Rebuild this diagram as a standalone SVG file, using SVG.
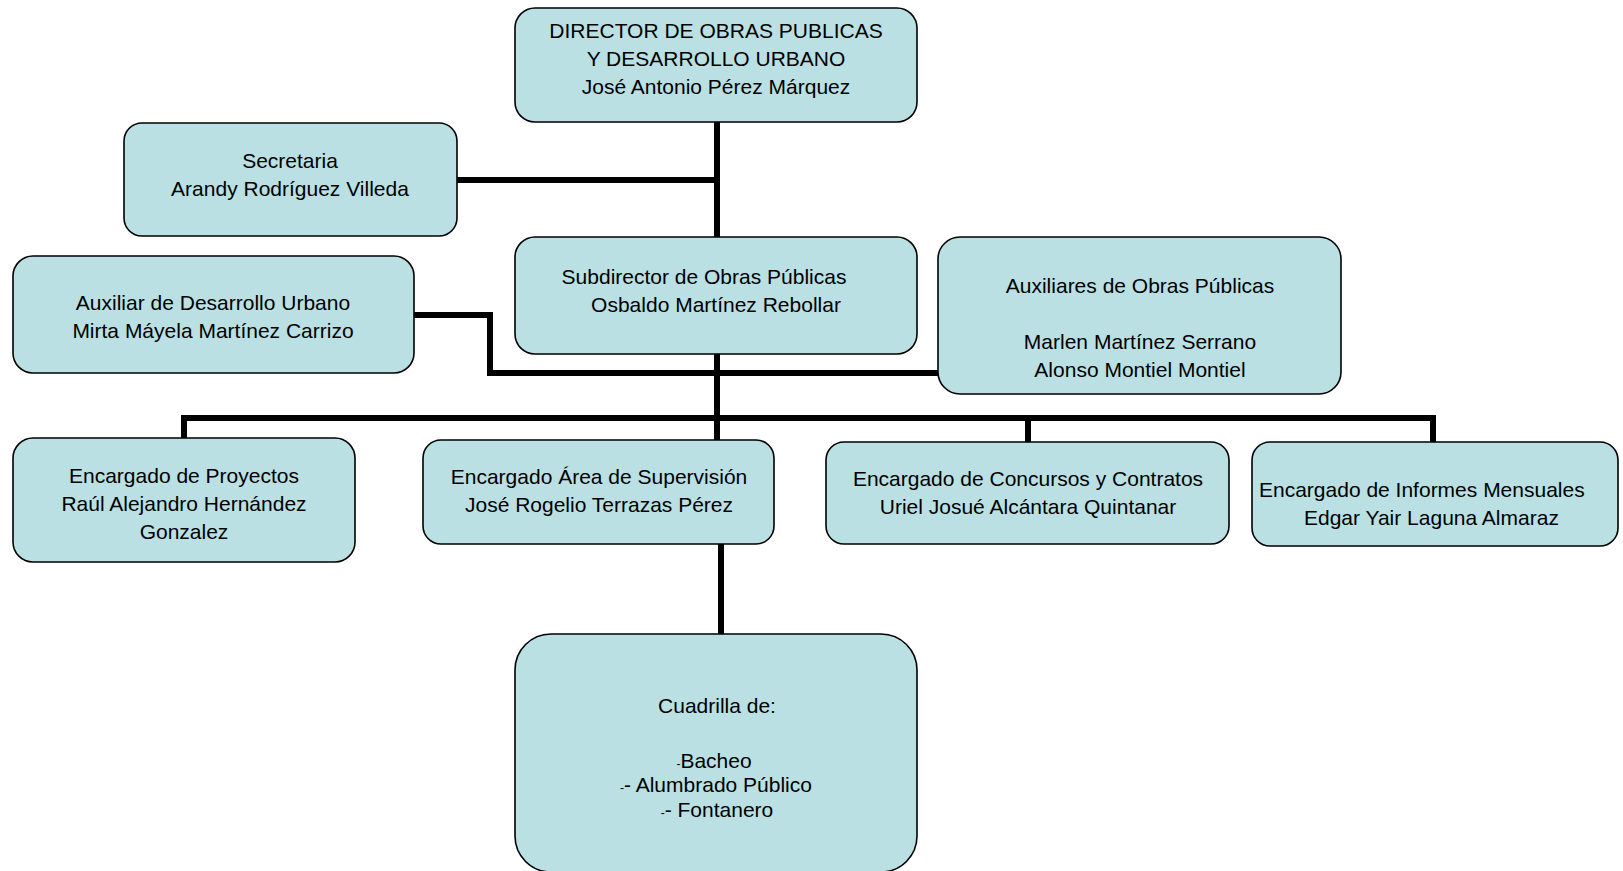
<svg xmlns="http://www.w3.org/2000/svg" width="1623" height="871" viewBox="0 0 1623 871">
<style>
.box{fill:#BAE0E4;stroke:#000;stroke-width:1.6}
.t{font-family:"Liberation Sans",Arial,sans-serif;font-size:21px;fill:#000;text-anchor:middle}
.s{text-anchor:start}
.sm{font-size:12px}
.c{fill:none;stroke:#000;stroke-width:6}
</style>
<rect width="1623" height="871" fill="#fff"/>
<g id="connectors">
<path class="c" d="M717,122 V440"/>
<path class="c" d="M457,180 H717"/>
<path class="c" d="M414,315 H490 V373 H938"/>
<path class="c" d="M184,438 V418 H1433 V442"/>
<path class="c" d="M1028,418 V442"/>
<path class="c" d="M721,544 V634"/>
</g>
<g id="director">
<rect class="box" x="515" y="8" width="402" height="114" rx="20"/>
<text class="t" x="716" y="38">DIRECTOR DE OBRAS PUBLICAS</text>
<text class="t" x="716" y="66">Y DESARROLLO URBANO</text>
<text class="t" x="716" y="94">José Antonio Pérez Márquez</text>
</g>
<g id="secretaria">
<rect class="box" x="124" y="123" width="333" height="113" rx="18"/>
<text class="t" x="290" y="168">Secretaria</text>
<text class="t" x="290" y="196">Arandy Rodríguez Villeda</text>
</g>
<g id="subdirector">
<rect class="box" x="515" y="237" width="402" height="117" rx="20"/>
<text class="t" x="704" y="284">Subdirector de Obras Públicas</text>
<text class="t" x="716" y="312">Osbaldo Martínez Rebollar</text>
</g>
<g id="auxiliares-obras">
<rect class="box" x="938" y="237" width="403" height="157" rx="22"/>
<text class="t" x="1140" y="293">Auxiliares de Obras Públicas</text>
<text class="t" x="1140" y="349">Marlen Martínez Serrano</text>
<text class="t" x="1140" y="377">Alonso Montiel Montiel</text>
</g>
<g id="auxiliar-desarrollo">
<rect class="box" x="13" y="256" width="401" height="117" rx="20"/>
<text class="t" x="213" y="310">Auxiliar de Desarrollo Urbano</text>
<text class="t" x="213" y="338">Mirta Máyela Martínez Carrizo</text>
</g>
<g id="proyectos">
<rect class="box" x="13" y="438" width="342" height="124" rx="20"/>
<text class="t" x="184" y="483">Encargado de Proyectos</text>
<text class="t" x="184" y="511">Raúl Alejandro Hernández</text>
<text class="t" x="184" y="539">Gonzalez</text>
</g>
<g id="supervision">
<rect class="box" x="423" y="440" width="351" height="104" rx="18"/>
<text class="t" x="599" y="484">Encargado Área de Supervisión</text>
<text class="t" x="599" y="512">José Rogelio Terrazas Pérez</text>
</g>
<g id="concursos">
<rect class="box" x="826" y="442" width="403" height="102" rx="18"/>
<text class="t" x="1028" y="486">Encargado de Concursos y Contratos</text>
<text class="t" x="1028" y="514">Uriel Josué Alcántara Quintanar</text>
</g>
<g id="informes">
<rect class="box" x="1252" y="442" width="366" height="104" rx="18"/>
<text class="t s" x="1259" y="497">Encargado de Informes Mensuales</text>
<text class="t s" x="1304" y="525">Edgar Yair Laguna Almaraz</text>
</g>
<g id="cuadrilla">
<rect class="box" x="515" y="634" width="402" height="238" rx="36"/>
<text class="t" x="717" y="713">Cuadrilla de:</text>
<text class="t" x="714" y="768"><tspan class="sm">-</tspan>Bacheo</text>
<text class="t" x="716" y="792"><tspan class="sm">-</tspan>- Alumbrado Público</text>
<text class="t" x="717" y="817"><tspan class="sm">-</tspan>- Fontanero</text>
</g>
</svg>
